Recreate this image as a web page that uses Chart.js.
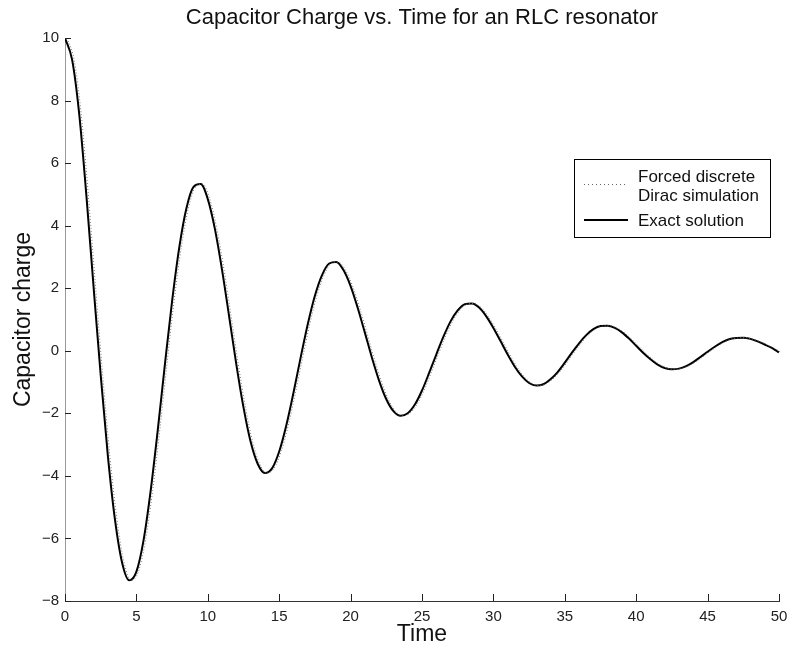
<!DOCTYPE html>
<html>
<head>
<meta charset="utf-8">
<script src="https://cdn.jsdelivr.net/npm/chart.js@4.4.1/dist/chart.umd.min.js"></script>
<style>
  html, body { margin: 0; padding: 0; background: #fff; }
  #wrap { width: 789px; height: 648px; }
</style>
</head>
<body>
<div id="wrap"><canvas id="chart" width="789" height="648"></canvas></div>
<script>
// --- Data ---
const time = [
  0, 0.5, 1, 1.5, 2, 2.5, 3, 3.5, 4, 4.5,
  5, 5.5, 6, 6.5, 7, 7.5, 8, 8.5, 9, 9.5,
  10, 10.5, 11, 11.5, 12, 12.5, 13, 13.5, 14, 14.5,
  15, 15.5, 16, 16.5, 17, 17.5, 18, 18.5, 19, 19.5,
  20, 20.5, 21, 21.5, 22, 22.5, 23, 23.5, 24, 24.5,
  25, 25.5, 26, 26.5, 27, 27.5, 28, 28.5, 29, 29.5,
  30, 30.5, 31, 31.5, 32, 32.5, 33, 33.5, 34, 34.5,
  35, 35.5, 36, 36.5, 37, 37.5, 38, 38.5, 39, 39.5,
  40, 40.5, 41, 41.5, 42, 42.5, 43, 43.5, 44, 44.5,
  45, 45.5, 46, 46.5, 47, 47.5, 48, 48.5, 49, 49.5,
  50
];
const charge = [
  10.00, 9.30, 7.55, 4.95, 2.05, -0.78, -3.35, -5.40, -6.78, -7.34,
  -7.06, -6.06, -4.47, -2.52, -0.42, 1.59, 3.30, 4.55, 5.24, 5.33,
  4.85, 3.89, 2.58, 1.08, -0.44, -1.81, -2.91, -3.62, -3.91, -3.76,
  -3.22, -2.38, -1.34, -0.22, 0.85, 1.76, 2.42, 2.79, 2.84, 2.58,
  2.07, 1.37, 0.58, -0.23, -0.96, -1.55, -1.93, -2.08, -2.00, -1.72,
  -1.27, -0.71, -0.12, 0.45, 0.94, 1.29, 1.49, 1.51, 1.38, 1.10,
  0.73, 0.31, -0.12, -0.51, -0.82, -1.03, -1.11, -1.07, -0.91, -0.68,
  -0.38, -0.06, 0.24, 0.50, 0.69, 0.79, 0.80, 0.73, 0.59, 0.39,
  0.16, -0.07, -0.27, -0.44, -0.55, -0.59, -0.57, -0.49, -0.36, -0.20,
  -0.03, 0.13, 0.27, 0.37, 0.41, 0.42, 0.38, 0.30, 0.20, 0.09,
  -0.05
];
const xTicks = [0, 5, 10, 15, 20, 25, 30, 35, 40, 45, 50];
const yTicks = [-8, -6, -4, -2, 0, 2, 4, 6, 8, 10];
const seriesLabels = ['Forced discrete Dirac simulation', 'Exact solution'];
const legendLines = [['Forced discrete', 'Dirac simulation'], ['Exact solution']];

const FONT = '"Liberation Sans", Arial, Helvetica, sans-serif';
const points = time.map((t, i) => ({ x: t, y: charge[i] }));

// --- Plugins ---
// nudges the dotted simulation trace a little to the right of the exact curve
const simLag = {
  id: 'simLag',
  beforeDatasetDraw(chart, args) {
    if (args.index === 0) { chart.ctx.save(); chart.ctx.translate(2, 0); }
  },
  afterDatasetDraw(chart, args) {
    if (args.index === 0) chart.ctx.restore();
  }
};

// MATLAB style ticks, pointing into the plot
const innerTicks = {
  id: 'innerTicks',
  afterDatasetsDraw(chart) {
    const { ctx, chartArea: a, scales: { x, y } } = chart;
    ctx.save();
    ctx.strokeStyle = '#222';
    ctx.lineWidth = 1;
    ctx.beginPath();
    xTicks.forEach(v => {
      const px = Math.round(x.getPixelForValue(v)) + 0.5;
      ctx.moveTo(px, a.bottom);
      ctx.lineTo(px, a.bottom - 7);
    });
    yTicks.forEach(v => {
      const py = Math.round(y.getPixelForValue(v)) + 0.5;
      ctx.moveTo(a.left, py);
      ctx.lineTo(a.left + 6, py);
    });
    ctx.stroke();
    ctx.restore();
  }
};

// boxed legend in the upper right
const boxLegend = {
  id: 'boxLegend',
  afterDraw(chart) {
    const ctx = chart.ctx;
    const bx = 574, by = 159, bw = 196, bh = 78;
    ctx.save();
    ctx.fillStyle = '#fff';
    ctx.fillRect(bx, by, bw, bh);
    ctx.strokeStyle = '#000';
    ctx.lineWidth = 1;
    ctx.strokeRect(bx + 0.5, by + 0.5, bw, bh);

    ctx.font = '17px ' + FONT;
    ctx.fillStyle = '#111';
    ctx.textBaseline = 'middle';
    ctx.fillText(legendLines[0][0], 638, 177);
    ctx.fillText(legendLines[0][1], 638, 196);
    ctx.fillText(legendLines[1][0], 638, 221);

    // dotted sample
    ctx.strokeStyle = '#666';
    ctx.setLineDash([1, 3]);
    ctx.beginPath();
    ctx.moveTo(584, 184.5);
    ctx.lineTo(628, 184.5);
    ctx.stroke();
    // solid sample
    ctx.setLineDash([]);
    ctx.strokeStyle = '#000';
    ctx.lineWidth = 2;
    ctx.beginPath();
    ctx.moveTo(584, 220);
    ctx.lineTo(628, 220);
    ctx.stroke();
    ctx.restore();
  }
};

new Chart(document.getElementById('chart'), {
  type: 'line',
  data: {
    datasets: [
      {
        label: seriesLabels[0],
        data: points,
        borderColor: '#777',
        borderWidth: 1,
        borderDash: [1, 2],
        pointRadius: 0,
        cubicInterpolationMode: 'monotone',
        fill: false
      },
      {
        label: seriesLabels[1],
        data: points,
        borderColor: '#000',
        borderWidth: 2,
        pointRadius: 0,
        cubicInterpolationMode: 'monotone',
        fill: false
      }
    ]
  },
  options: {
    responsive: false,
    animation: false,
    layout: { padding: { left: 0, right: 10, top: 0, bottom: 0 } },
    plugins: {
      legend: { display: false },
      tooltip: { enabled: false },
      title: {
        display: true,
        fullSize: false,
        text: 'Capacitor Charge vs. Time for an RLC resonator',
        color: '#111',
        font: { family: FONT, size: 22, weight: 'normal', lineHeight: 1.2 },
        padding: { top: 5, bottom: 6.6 }
      }
    },
    scales: {
      x: {
        type: 'linear',
        min: 0,
        max: 50,
        afterFit: s => { s.height = 47; s.paddingLeft = 0; s.paddingRight = 0; },
        afterBuildTicks: s => { s.ticks = xTicks.map(v => ({ value: v })); },
        grid: { display: false, drawTicks: false },
        border: { display: true, color: '#333', width: 1 },
        ticks: {
          color: '#222',
          padding: 7,
          maxRotation: 0,
          font: { family: FONT, size: 15 }
        },
        title: {
          display: true,
          text: 'Time',
          color: '#111',
          font: { family: FONT, size: 23 },
          padding: { top: 0, bottom: 0 }
        }
      },
      y: {
        type: 'linear',
        min: -8,
        max: 10,
        afterFit: s => { s.width = 65; },
        afterBuildTicks: s => { s.ticks = yTicks.map(v => ({ value: v })); },
        grid: { display: false, drawTicks: false },
        border: { display: true, color: '#999', width: 1 },
        ticks: {
          color: '#222',
          padding: 6,
          font: { family: FONT, size: 15 },
          callback: v => String(v).replace('-', '\u2212')
        },
        title: {
          display: true,
          text: 'Capacitor charge',
          color: '#111',
          font: { family: FONT, size: 23 },
          padding: { top: 10, bottom: 0 }
        }
      }
    }
  },
  plugins: [simLag, innerTicks, boxLegend]
});
</script>
</body>
</html>
